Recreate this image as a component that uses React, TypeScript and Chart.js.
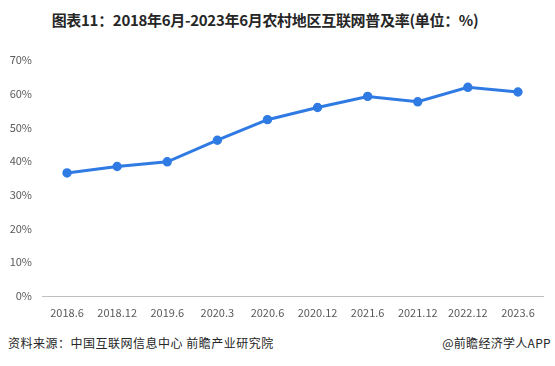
import React, { useEffect, useRef } from "react";
import { Chart, registerables } from "chart.js";

Chart.register(...registerables);

const categories = ["2018.6", "2018.12", "2019.6", "2020.3", "2020.6", "2020.12", "2021.6", "2021.12", "2022.12", "2023.6"];
const penetration = [36.5, 38.4, 39.8, 46.2, 52.3, 55.9, 59.2, 57.6, 61.9, 60.5];
const yTicks = [0, 10, 20, 30, 40, 50, 60, 70];

const FONT = '"Noto Sans CJK SC", "Microsoft YaHei", sans-serif';

export default function App() {
  const ref = useRef<HTMLCanvasElement>(null);
  useEffect(() => {
    document.body.style.margin = "0";
    const chart = new Chart(ref.current!, {
      type: "line",
      data: {
        labels: categories,
        datasets: [
          {
            data: penetration,
            borderColor: "#2F7BE3",
            backgroundColor: "#2F7BE3",
            borderWidth: 3,
            pointRadius: 3.2,
            pointHoverRadius: 3.2,
            tension: 0,
          },
        ],
      },
      options: {
        animation: false,
        responsive: false,
        maintainAspectRatio: false,
        layout: { padding: { top: 20, right: 12, bottom: 0, left: 0 } },
        plugins: { legend: { display: false }, tooltip: { enabled: false } },
        scales: {
          x: {
            offset: true,
            grid: { display: false, drawTicks: false },
            border: { display: true, color: "#bfbfbf", dash: [2, 2], width: 1 },
            ticks: { color: "#595959", font: { family: FONT, size: 11 }, padding: 10, maxRotation: 0, autoSkip: false },
            afterFit: (s: any) => { s.height = 29; },
          },
          y: {
            min: 0,
            max: 70,
            afterBuildTicks: (s: any) => { s.ticks = yTicks.map((v) => ({ value: v })); },
            grid: { display: false, drawTicks: false },
            border: { display: false },
            ticks: { color: "#595959", font: { family: FONT, size: 11 }, padding: 10, callback: (v: any) => v + "%" },
            afterFit: (s: any) => { s.width = 42; },
          },
        },
      },
    });
    return () => chart.destroy();
  }, []);

  return (
    <div style={{ position: "relative", width: 555, height: 366, background: "#fff", fontFamily: FONT, overflow: "hidden" }}>
      <div style={{ position: "absolute", top: 9, left: 0, width: 530, textAlign: "center", fontSize: 15, fontWeight: "bold", color: "#262626", lineHeight: "22px", letterSpacing: -0.3 }}>
        图表11：2018年6月-2023年6月农村地区互联网普及率(单位：%)
      </div>
      <canvas ref={ref} width={555} height={285} style={{ position: "absolute", top: 40, left: 0 }} />
      <div style={{ position: "absolute", top: 334, left: 8, fontSize: 12, color: "#262626", lineHeight: "18px", letterSpacing: 0.5 }}>
        资料来源：中国互联网信息中心 前瞻产业研究院
      </div>
      <div style={{ position: "absolute", top: 334, right: 4, fontSize: 12, color: "#262626", lineHeight: "18px", letterSpacing: 0.3 }}>
        @前瞻经济学人APP
      </div>
    </div>
  );
}
